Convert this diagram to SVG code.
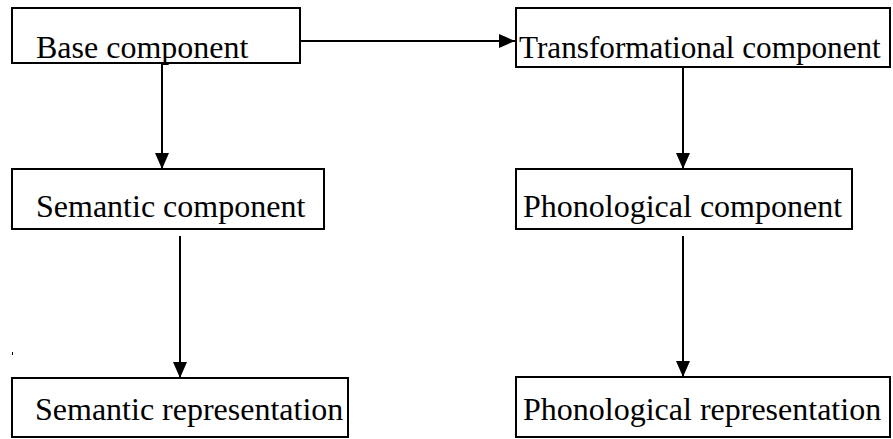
<svg xmlns="http://www.w3.org/2000/svg" width="893" height="439" viewBox="0 0 893 439">
  <style>
    .box { fill: #ffffff; stroke: #000000; stroke-width: 2; }
    .label { font-family: "Liberation Serif", "Times New Roman", serif; font-size: 32px; fill: #000000; }
    .link { stroke: #000000; stroke-width: 2; fill: none; }
  </style>
  <defs>
    <marker id="arrow" viewBox="0 0 16 16" refX="16" refY="8" markerWidth="16" markerHeight="16" markerUnits="userSpaceOnUse" orient="auto">
      <path d="M0,1 L16,8 L0,15 Z" fill="#000000"/>
    </marker>
  </defs>
  <rect width="893" height="439" fill="#ffffff"/>

  <g id="base">
    <rect class="box" x="12" y="8" width="288" height="55"/>
    <text class="label" x="36" y="58">Base component</text>
  </g>
  <g id="transformational">
    <rect class="box" x="516" y="8" width="374" height="59"/>
    <text class="label" x="519" y="58" style="font-size:31.2px">Transformational component</text>
  </g>
  <g id="semantic">
    <rect class="box" x="12" y="169" width="312" height="60"/>
    <text class="label" x="36" y="217">Semantic component</text>
  </g>
  <g id="phonological">
    <rect class="box" x="516" y="169" width="336" height="60"/>
    <text class="label" x="523" y="217">Phonological component</text>
  </g>
  <g id="semantic-rep">
    <rect class="box" x="12" y="378" width="336" height="59"/>
    <text class="label" x="35" y="420">Semantic representation</text>
  </g>
  <g id="phonological-rep">
    <rect class="box" x="516" y="377" width="374" height="60"/>
    <text class="label" x="523" y="420">Phonological representation</text>
  </g>

  <g id="connectors">
    <line class="link" x1="300" y1="41" x2="515" y2="41" marker-end="url(#arrow)"/>
    <line class="link" x1="162" y1="63" x2="162" y2="169" marker-end="url(#arrow)"/>
    <line class="link" x1="683" y1="67" x2="683" y2="169" marker-end="url(#arrow)"/>
    <line class="link" x1="180" y1="236" x2="180" y2="378" marker-end="url(#arrow)"/>
    <line class="link" x1="683" y1="236" x2="683" y2="377" marker-end="url(#arrow)"/>
  </g>

  <rect x="12" y="352" width="1" height="3" fill="#000000"/>
</svg>
